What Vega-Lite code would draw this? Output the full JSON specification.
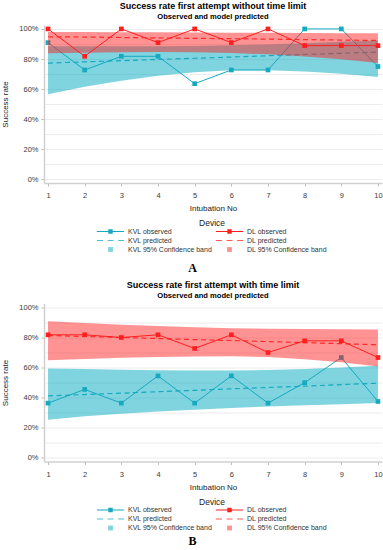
{
  "$schema": "https://vega.github.io/schema/vega-lite/v6.json",
  "padding": {"left": 1, "top": 2, "right": 0, "bottom": 0},
  "spacing": 6.5,
  "resolve": {"scale": {"color": "independent", "shape": "independent"}, "legend": {"color": "independent", "shape": "independent"}},
  "config": {
    "font": "Liberation Sans",
    "view": {"stroke": null},
    "axis": {
      "labelFont": "Liberation Sans", "labelFontSize": 7.5, "labelColor": "#3a3a3a",
      "titleFont": "Liberation Sans", "titleFontSize": 8, "titleFontWeight": "normal", "titleColor": "#222222",
      "domainColor": "#d0d0d0", "domainWidth": 1.5, "tickColor": "#bdbdbd", "tickSize": 3, "gridColor": "#ececec"
    },
    "title": {
      "font": "Liberation Sans", "fontSize": 9, "fontWeight": "bold", "color": "#000000",
      "subtitleFont": "Liberation Sans", "subtitleFontSize": 7.6, "subtitleFontWeight": "bold", "subtitleColor": "#000000",
      "anchor": "middle", "offset": 4, "subtitlePadding": 2
    },
    "legend": {
      "labelFont": "Liberation Sans", "labelFontSize": 7, "labelColor": "#333333",
      "titleFont": "Liberation Sans", "titleFontSize": 8.5, "titleFontWeight": "normal", "titleColor": "#222222",
      "padding": 0, "orient": "none", "legendX": 53, "legendY": 194, "direction": "horizontal", "columns": 2,
      "titleAnchor": "middle", "symbolSize": 64, "symbolOffset": 9.5, "labelOffset": 13.5, "columnPadding": 2, "rowPadding": 2, "titlePadding": 0,
      "symbolStrokeWidth": 0, "symbolOpacity": 1
    }
  },
  "datasets": {
    "A": [
      {"n": 1, "dev": "KVL", "o": "KVL observed", "obs": 0.909, "pred": 0.773, "lo": 0.565, "hi": 0.885},
      {"n": 2, "dev": "KVL", "o": "KVL observed", "obs": 0.727, "pred": 0.781, "lo": 0.615, "hi": 0.884},
      {"n": 3, "dev": "KVL", "o": "KVL observed", "obs": 0.818, "pred": 0.789, "lo": 0.655, "hi": 0.884},
      {"n": 4, "dev": "KVL", "o": "KVL observed", "obs": 0.818, "pred": 0.797, "lo": 0.688, "hi": 0.885},
      {"n": 5, "dev": "KVL", "o": "KVL observed", "obs": 0.636, "pred": 0.805, "lo": 0.712, "hi": 0.887},
      {"n": 6, "dev": "KVL", "o": "KVL observed", "obs": 0.727, "pred": 0.813, "lo": 0.726, "hi": 0.891},
      {"n": 7, "dev": "KVL", "o": "KVL observed", "obs": 0.727, "pred": 0.822, "lo": 0.725, "hi": 0.897},
      {"n": 8, "dev": "KVL", "o": "KVL observed", "obs": 1.0, "pred": 0.830, "lo": 0.717, "hi": 0.905},
      {"n": 9, "dev": "KVL", "o": "KVL observed", "obs": 1.0, "pred": 0.838, "lo": 0.702, "hi": 0.914},
      {"n": 10, "dev": "KVL", "o": "KVL observed", "obs": 0.75, "pred": 0.846, "lo": 0.680, "hi": 0.923},
      {"n": 1, "dev": "DL", "o": "DL observed", "obs": 1.0, "pred": 0.948, "lo": 0.838, "hi": 0.980},
      {"n": 2, "dev": "DL", "o": "DL observed", "obs": 0.818, "pred": 0.946, "lo": 0.842, "hi": 0.979},
      {"n": 3, "dev": "DL", "o": "DL observed", "obs": 1.0, "pred": 0.943, "lo": 0.845, "hi": 0.978},
      {"n": 4, "dev": "DL", "o": "DL observed", "obs": 0.909, "pred": 0.940, "lo": 0.846, "hi": 0.977},
      {"n": 5, "dev": "DL", "o": "DL observed", "obs": 1.0, "pred": 0.937, "lo": 0.845, "hi": 0.976},
      {"n": 6, "dev": "DL", "o": "DL observed", "obs": 0.909, "pred": 0.935, "lo": 0.840, "hi": 0.975},
      {"n": 7, "dev": "DL", "o": "DL observed", "obs": 1.0, "pred": 0.932, "lo": 0.831, "hi": 0.974},
      {"n": 8, "dev": "DL", "o": "DL observed", "obs": 0.889, "pred": 0.929, "lo": 0.817, "hi": 0.973},
      {"n": 9, "dev": "DL", "o": "DL observed", "obs": 0.889, "pred": 0.926, "lo": 0.798, "hi": 0.972},
      {"n": 10, "dev": "DL", "o": "DL observed", "obs": 0.889, "pred": 0.923, "lo": 0.773, "hi": 0.971}
    ],
    "B": [
      {"n": 1, "dev": "KVL", "o": "KVL observed", "obs": 0.364, "pred": 0.412, "lo": 0.254, "hi": 0.594},
      {"n": 2, "dev": "KVL", "o": "KVL observed", "obs": 0.455, "pred": 0.421, "lo": 0.276, "hi": 0.590},
      {"n": 3, "dev": "KVL", "o": "KVL observed", "obs": 0.364, "pred": 0.430, "lo": 0.294, "hi": 0.586},
      {"n": 4, "dev": "KVL", "o": "KVL observed", "obs": 0.545, "pred": 0.440, "lo": 0.309, "hi": 0.583},
      {"n": 5, "dev": "KVL", "o": "KVL observed", "obs": 0.364, "pred": 0.449, "lo": 0.320, "hi": 0.581},
      {"n": 6, "dev": "KVL", "o": "KVL observed", "obs": 0.545, "pred": 0.459, "lo": 0.331, "hi": 0.581},
      {"n": 7, "dev": "KVL", "o": "KVL observed", "obs": 0.364, "pred": 0.468, "lo": 0.342, "hi": 0.584},
      {"n": 8, "dev": "KVL", "o": "KVL observed", "obs": 0.5, "pred": 0.477, "lo": 0.349, "hi": 0.591},
      {"n": 9, "dev": "KVL", "o": "KVL observed", "obs": 0.667, "pred": 0.487, "lo": 0.357, "hi": 0.600},
      {"n": 10, "dev": "KVL", "o": "KVL observed", "obs": 0.375, "pred": 0.496, "lo": 0.364, "hi": 0.612},
      {"n": 1, "dev": "DL", "o": "DL observed", "obs": 0.818, "pred": 0.814, "lo": 0.649, "hi": 0.908},
      {"n": 2, "dev": "DL", "o": "DL observed", "obs": 0.818, "pred": 0.807, "lo": 0.658, "hi": 0.896},
      {"n": 3, "dev": "DL", "o": "DL observed", "obs": 0.8, "pred": 0.800, "lo": 0.665, "hi": 0.885},
      {"n": 4, "dev": "DL", "o": "DL observed", "obs": 0.818, "pred": 0.793, "lo": 0.670, "hi": 0.876},
      {"n": 5, "dev": "DL", "o": "DL observed", "obs": 0.727, "pred": 0.786, "lo": 0.674, "hi": 0.868},
      {"n": 6, "dev": "DL", "o": "DL observed", "obs": 0.818, "pred": 0.780, "lo": 0.676, "hi": 0.862},
      {"n": 7, "dev": "DL", "o": "DL observed", "obs": 0.7, "pred": 0.773, "lo": 0.671, "hi": 0.859},
      {"n": 8, "dev": "DL", "o": "DL observed", "obs": 0.778, "pred": 0.766, "lo": 0.656, "hi": 0.857},
      {"n": 9, "dev": "DL", "o": "DL observed", "obs": 0.778, "pred": 0.759, "lo": 0.636, "hi": 0.855},
      {"n": 10, "dev": "DL", "o": "DL observed", "obs": 0.667, "pred": 0.752, "lo": 0.607, "hi": 0.853}
    ]
  },
  "vconcat": [
    {
      "spacing": 9,
      "resolve": {"scale": {"color": "independent", "shape": "independent"}, "legend": {"color": "independent", "shape": "independent"}},
      "vconcat": [
        {
          "width": 338, "height": 158,
          "title": {"text": "Success rate first attempt without time limit", "subtitle": "Observed and model predicted"},
          "data": {"name": "A"},
          "encoding": {
            "x": {"field": "n", "type": "quantitative", "scale": {"domain": [0.89, 10.11], "nice": false, "zero": false},
                  "axis": {"values": [1,2,3,4,5,6,7,8,9,10], "tickCount": 10, "format": "d", "title": "Intubation No", "grid": false, "labelPadding": 5.5, "titlePadding": 5.5}}
          },
          "layer": [
            {"transform": [{"filter": "datum.dev == 'KVL'"}],
             "mark": {"type": "area", "color": "#00aabf", "opacity": 0.5},
             "encoding": {
               "y": {"field": "lo", "type": "quantitative", "title": "Success rate", "scale": {"domain": [-0.024, 1.026], "nice": false, "zero": false},
                     "axis": {"title": "Success rate", "values": [0,0.1,0.2,0.3,0.4,0.5,0.6,0.7,0.8,0.9,1], "tickCount": 11, "format": ".0%", "labelOverlap": false,
                              "labelExpr": "round(datum.value*10)%2==0 ? datum.label : ''", "grid": true,
                              "tickOpacity": {"condition": {"test": "round(datum.value*10)%2==1", "value": 0}, "value": 1},
                              "labelPadding": 3, "titlePadding": 9}},
               "y2": {"field": "hi"}}},
            {"transform": [{"filter": "datum.dev == 'KVL'"}],
             "mark": {"type": "line", "color": "#16a9c0", "strokeDash": [5, 3.5], "strokeWidth": 1.2},
             "encoding": {"y": {"field": "pred", "type": "quantitative", "title": "Success rate"}}},
            {"transform": [{"filter": "datum.dev == 'KVL'"}],
             "mark": {"type": "line", "color": "#16a9c0", "strokeWidth": 1},
             "encoding": {"y": {"field": "obs", "type": "quantitative", "title": "Success rate"}}},
            {"transform": [{"filter": "datum.dev == 'KVL'"}],
             "mark": {"type": "point", "shape": "square", "filled": true, "size": 22, "opacity": 1, "color": "#16a9c0"},
             "encoding": {"y": {"field": "obs", "type": "quantitative", "title": "Success rate"}}},
            {"transform": [{"filter": "datum.dev == 'DL'"}],
             "mark": {"type": "area", "color": "#ff1a1a", "opacity": 0.47},
             "encoding": {"y": {"field": "lo", "type": "quantitative", "title": "Success rate"}, "y2": {"field": "hi"}}},
            {"transform": [{"filter": "datum.dev == 'DL'"}],
             "mark": {"type": "line", "color": "#ff2a2a", "strokeDash": [5, 3.5], "strokeWidth": 1.2},
             "encoding": {"y": {"field": "pred", "type": "quantitative", "title": "Success rate"}}},
            {"transform": [{"filter": "datum.dev == 'DL'"}],
             "mark": {"type": "line", "color": "#ff1f1f", "strokeWidth": 1},
             "encoding": {"y": {"field": "obs", "type": "quantitative", "title": "Success rate"}}},
            {"transform": [{"filter": "datum.dev == 'DL'"}],
             "mark": {"type": "point", "shape": "square", "filled": true, "size": 22, "opacity": 1, "color": "#ff1f1f"},
             "encoding": {"y": {"field": "obs", "type": "quantitative", "title": "Success rate"}}},
            {"mark": {"type": "point", "filled": true, "opacity": 0},
             "encoding": {"y": {"field": "obs", "type": "quantitative", "title": "Success rate"},
               "color": {"field": "o", "type": "nominal", "title": "Device",
                 "scale": {"domain": ["KVL observed","DL observed","KVL predicted","DL predicted","KVL 95% Confidence band","DL 95% Confidence band"],
                           "range": ["#16a9c0","#ff1f1f","#4cc0d0","#ff5a5a","#80d4df","#ff8f8f"]},
                 "legend": {"title": "Device"}},
               "shape": {"field": "o", "type": "nominal", "title": "Device",
                 "scale": {"domain": ["KVL observed","DL observed","KVL predicted","DL predicted","KVL 95% Confidence band","DL 95% Confidence band"],
                           "range": ["M-3.4,-0.15H3.4V0.15H-3.4Z M-0.55,-0.55H0.55V0.55H-0.55Z","M-3.4,-0.15H3.4V0.15H-3.4Z M-0.55,-0.55H0.55V0.55H-0.55Z",
                                     "M-3.4,-0.15H-1.9V0.15H-3.4Z M-0.75,-0.15H0.75V0.15H-0.75Z M1.9,-0.15H3.4V0.15H1.9Z","M-3.4,-0.15H-1.9V0.15H-3.4Z M-0.75,-0.15H0.75V0.15H-0.75Z M1.9,-0.15H3.4V0.15H1.9Z",
                                     "M-0.6,-0.6H0.6V0.6H-0.6Z","M-0.6,-0.6H0.6V0.6H-0.6Z"]},
                 "legend": {"title": "Device"}}}}
          ]
        },
        {
          "width": 297, "height": 12,
          "data": {"values": [{"t": "A"}]},
          "mark": {"type": "text", "font": "Liberation Serif", "fontWeight": "bold", "fontSize": 12, "color": "#000000"},
          "encoding": {"text": {"field": "t", "type": "nominal"}}
        }
      ]
    },
    {
      "spacing": 3.5,
      "resolve": {"scale": {"color": "independent", "shape": "independent"}, "legend": {"color": "independent", "shape": "independent"}},
      "vconcat": [
        {
          "width": 338, "height": 158,
          "title": {"text": "Success rate first attempt with time limit", "subtitle": "Observed and model predicted"},
          "data": {"name": "B"},
          "encoding": {
            "x": {"field": "n", "type": "quantitative", "scale": {"domain": [0.89, 10.11], "nice": false, "zero": false},
                  "axis": {"values": [1,2,3,4,5,6,7,8,9,10], "tickCount": 10, "format": "d", "title": "Intubation No", "grid": false, "labelPadding": 5.5, "titlePadding": 5.5}}
          },
          "layer": [
            {"transform": [{"filter": "datum.dev == 'KVL'"}],
             "mark": {"type": "area", "color": "#00aabf", "opacity": 0.5},
             "encoding": {
               "y": {"field": "lo", "type": "quantitative", "title": "Success rate", "scale": {"domain": [-0.024, 1.026], "nice": false, "zero": false},
                     "axis": {"title": "Success rate", "values": [0,0.1,0.2,0.3,0.4,0.5,0.6,0.7,0.8,0.9,1], "tickCount": 11, "format": ".0%", "labelOverlap": false,
                              "labelExpr": "round(datum.value*10)%2==0 ? datum.label : ''", "grid": true,
                              "tickOpacity": {"condition": {"test": "round(datum.value*10)%2==1", "value": 0}, "value": 1},
                              "labelPadding": 3, "titlePadding": 9}},
               "y2": {"field": "hi"}}},
            {"transform": [{"filter": "datum.dev == 'KVL'"}],
             "mark": {"type": "line", "color": "#16a9c0", "strokeDash": [5, 3.5], "strokeWidth": 1.2},
             "encoding": {"y": {"field": "pred", "type": "quantitative", "title": "Success rate"}}},
            {"transform": [{"filter": "datum.dev == 'KVL'"}],
             "mark": {"type": "line", "color": "#16a9c0", "strokeWidth": 1},
             "encoding": {"y": {"field": "obs", "type": "quantitative", "title": "Success rate"}}},
            {"transform": [{"filter": "datum.dev == 'KVL'"}],
             "mark": {"type": "point", "shape": "square", "filled": true, "size": 22, "opacity": 1, "color": "#16a9c0"},
             "encoding": {"y": {"field": "obs", "type": "quantitative", "title": "Success rate"}}},
            {"transform": [{"filter": "datum.dev == 'DL'"}],
             "mark": {"type": "area", "color": "#ff1a1a", "opacity": 0.47},
             "encoding": {"y": {"field": "lo", "type": "quantitative", "title": "Success rate"}, "y2": {"field": "hi"}}},
            {"transform": [{"filter": "datum.dev == 'DL'"}],
             "mark": {"type": "line", "color": "#ff2a2a", "strokeDash": [5, 3.5], "strokeWidth": 1.2},
             "encoding": {"y": {"field": "pred", "type": "quantitative", "title": "Success rate"}}},
            {"transform": [{"filter": "datum.dev == 'DL'"}],
             "mark": {"type": "line", "color": "#ff1f1f", "strokeWidth": 1},
             "encoding": {"y": {"field": "obs", "type": "quantitative", "title": "Success rate"}}},
            {"transform": [{"filter": "datum.dev == 'DL'"}],
             "mark": {"type": "point", "shape": "square", "filled": true, "size": 22, "opacity": 1, "color": "#ff1f1f"},
             "encoding": {"y": {"field": "obs", "type": "quantitative", "title": "Success rate"}}},
            {"mark": {"type": "point", "filled": true, "opacity": 0},
             "encoding": {"y": {"field": "obs", "type": "quantitative", "title": "Success rate"},
               "color": {"field": "o", "type": "nominal", "title": "Device",
                 "scale": {"domain": ["KVL observed","DL observed","KVL predicted","DL predicted","KVL 95% Confidence band","DL 95% Confidence band"],
                           "range": ["#16a9c0","#ff1f1f","#4cc0d0","#ff5a5a","#80d4df","#ff8f8f"]},
                 "legend": {"title": "Device"}},
               "shape": {"field": "o", "type": "nominal", "title": "Device",
                 "scale": {"domain": ["KVL observed","DL observed","KVL predicted","DL predicted","KVL 95% Confidence band","DL 95% Confidence band"],
                           "range": ["M-3.4,-0.15H3.4V0.15H-3.4Z M-0.55,-0.55H0.55V0.55H-0.55Z","M-3.4,-0.15H3.4V0.15H-3.4Z M-0.55,-0.55H0.55V0.55H-0.55Z",
                                     "M-3.4,-0.15H-1.9V0.15H-3.4Z M-0.75,-0.15H0.75V0.15H-0.75Z M1.9,-0.15H3.4V0.15H1.9Z","M-3.4,-0.15H-1.9V0.15H-3.4Z M-0.75,-0.15H0.75V0.15H-0.75Z M1.9,-0.15H3.4V0.15H1.9Z",
                                     "M-0.6,-0.6H0.6V0.6H-0.6Z","M-0.6,-0.6H0.6V0.6H-0.6Z"]},
                 "legend": {"title": "Device"}}}}
          ]
        },
        {
          "width": 297, "height": 12,
          "data": {"values": [{"t": "B"}]},
          "mark": {"type": "text", "font": "Liberation Serif", "fontWeight": "bold", "fontSize": 12, "color": "#000000"},
          "encoding": {"text": {"field": "t", "type": "nominal"}}
        }
      ]
    }
  ]
}
